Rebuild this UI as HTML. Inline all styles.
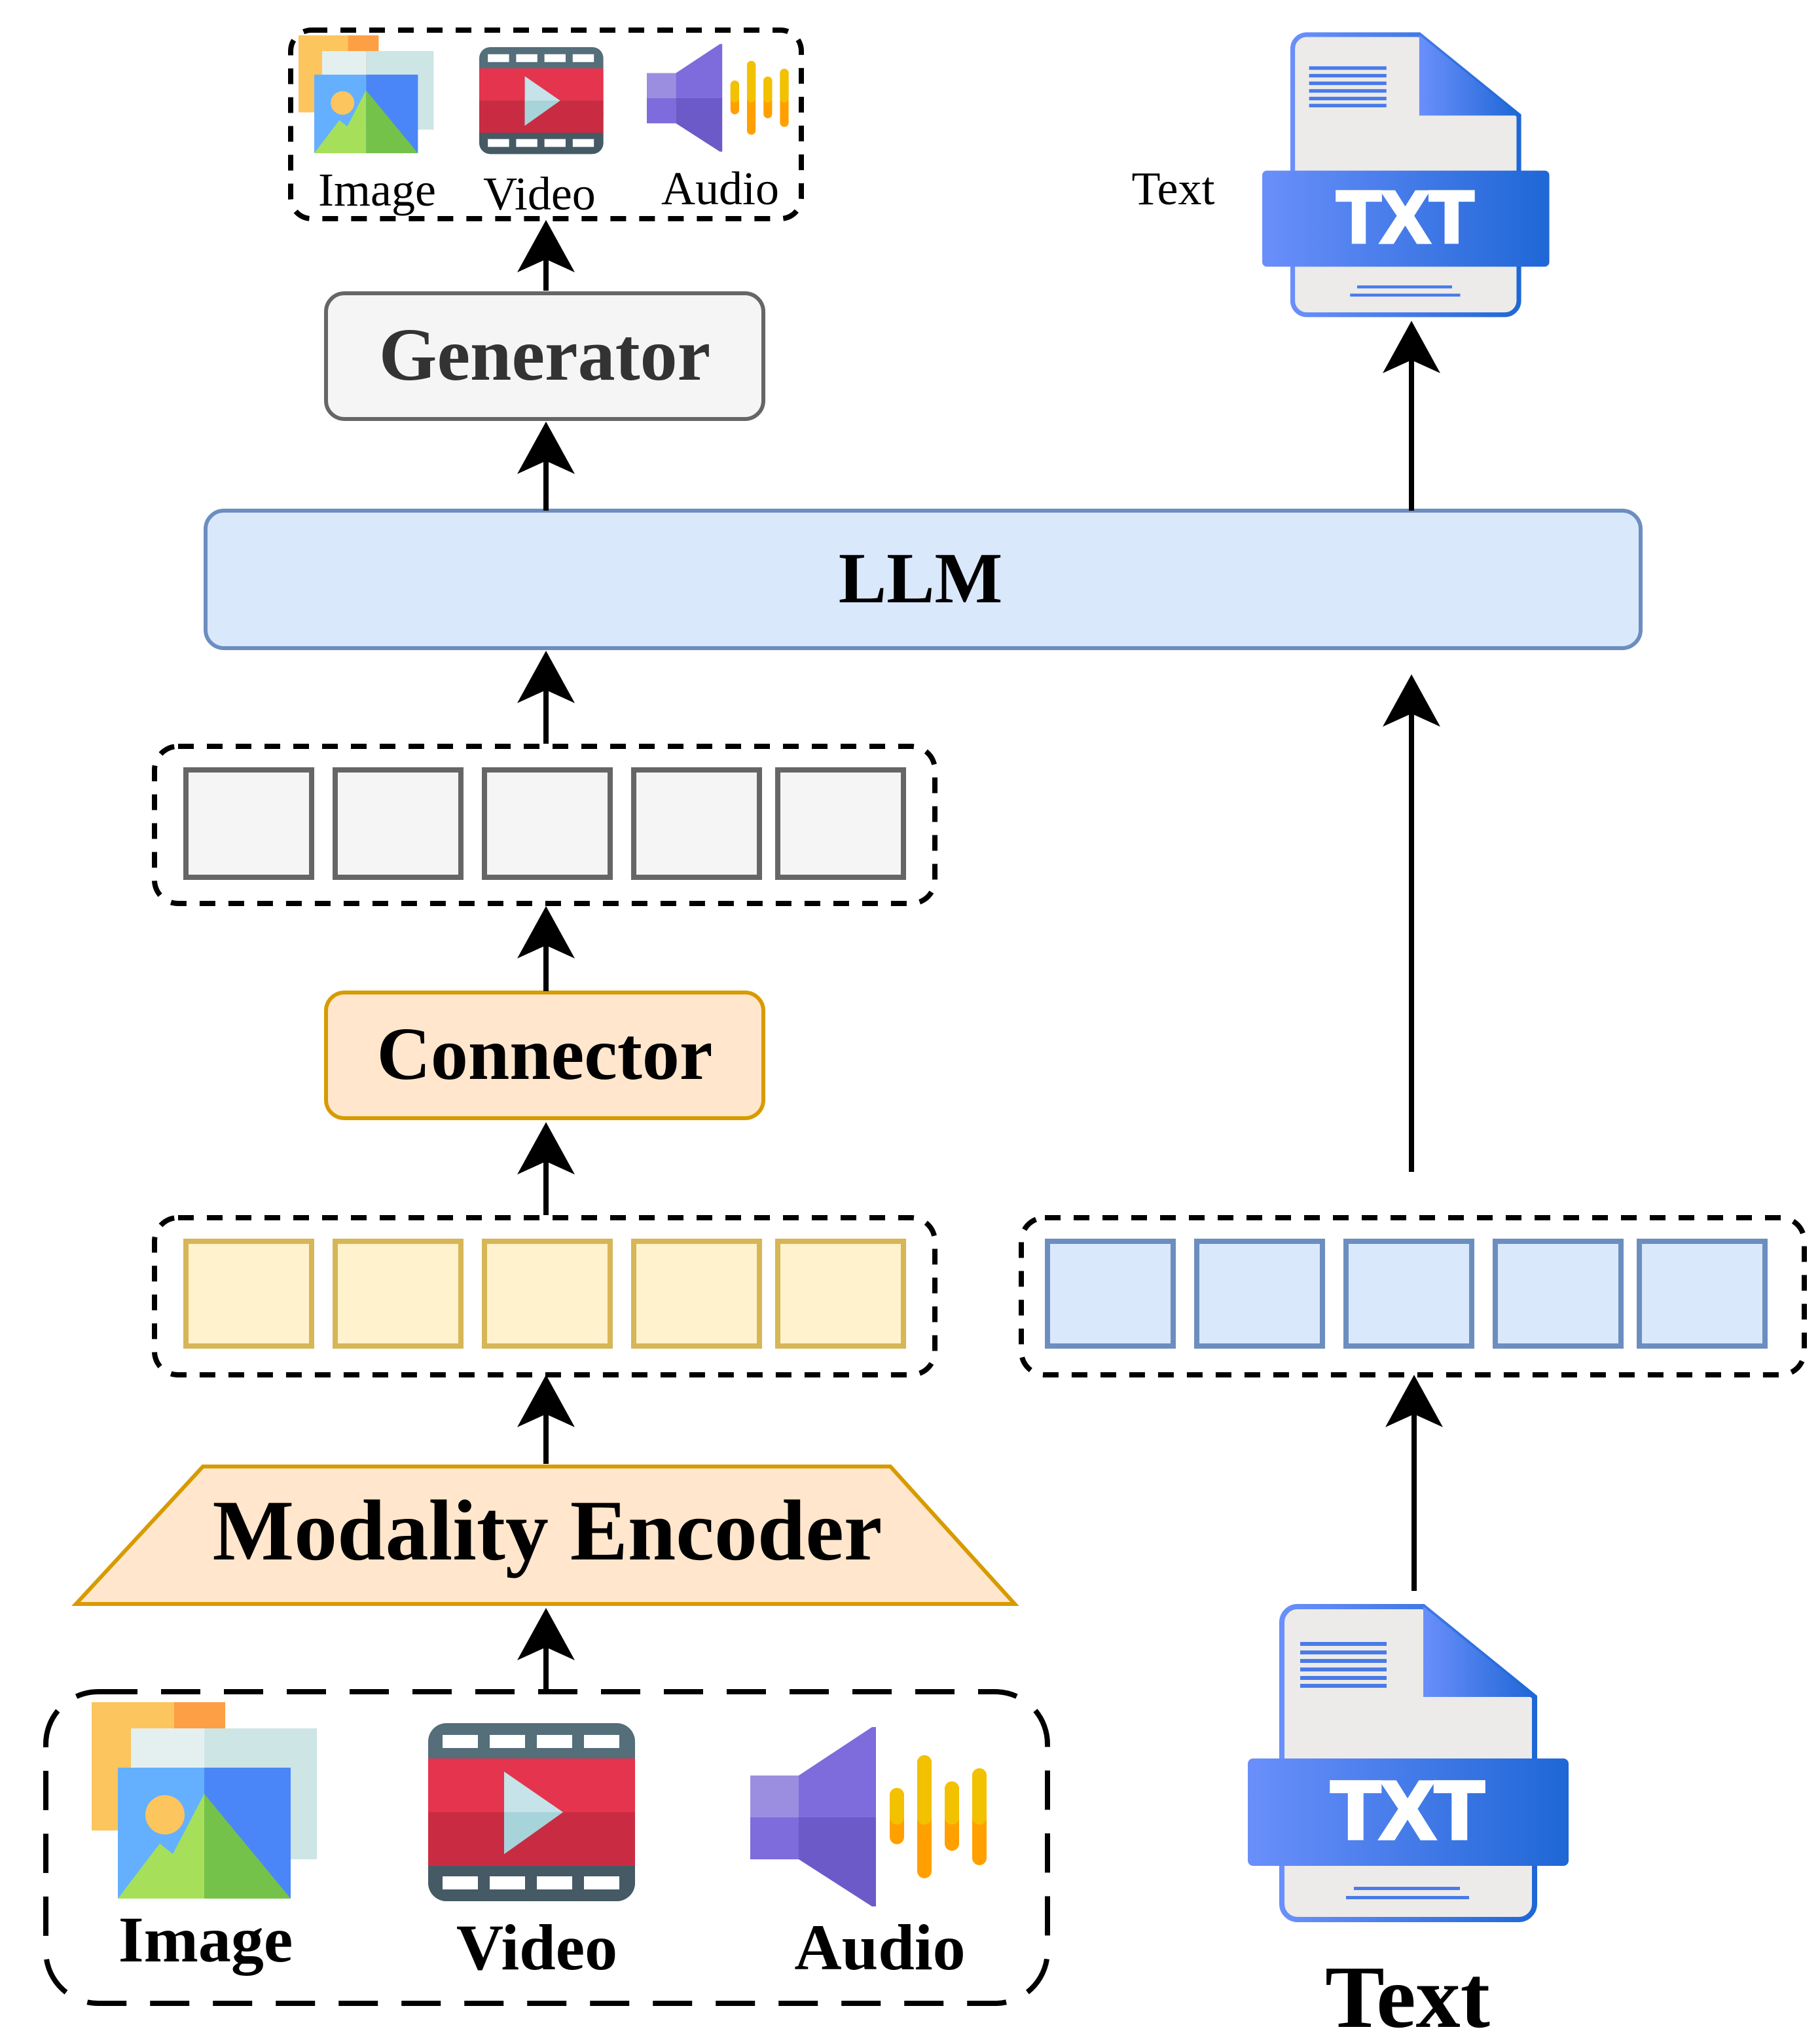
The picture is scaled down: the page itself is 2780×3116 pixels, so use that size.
<!DOCTYPE html>
<html><head><meta charset="utf-8"><style>
html,body{margin:0;padding:0;background:#fff}
svg{display:block}
text{font-family:"Liberation Serif",serif}
</style></head><body>
<svg width="2780" height="3116" viewBox="0 0 1390 1558" xmlns="http://www.w3.org/2000/svg">
<defs>
<linearGradient id="bg" x1="0" x2="1"><stop offset="0" stop-color="#6a8ffb"/><stop offset="1" stop-color="#1f67d6"/></linearGradient>
<g id="img">
<rect x="0" y="0" width="63" height="98" fill="#fdc55e"/><rect x="63" y="0" width="39" height="98" fill="#fd9f45"/>
<rect x="30" y="20" width="56" height="100" fill="#e4f0f0"/><rect x="86" y="20" width="86" height="100" fill="#cde5e5"/>
<rect x="20" y="50" width="66" height="100" fill="#64b0ff"/><rect x="86" y="50" width="66" height="100" fill="#4a86f7"/>
<circle cx="56" cy="86" r="15" fill="#fdc55e"/>
<polygon points="20,150 52,108 62,116 86,70 86,150" fill="#a6e05a"/>
<polygon points="86,70 152,150 86,150" fill="#74c24a"/>
</g>
<g id="vid">
<rect x="0" y="0" width="158" height="136" rx="14" fill="#546e7a"/>
<rect x="0" y="68" width="158" height="68" rx="14" fill="#455a64"/>
<rect x="0" y="68" width="158" height="20" fill="#455a64"/>
<rect x="0" y="27" width="158" height="41" fill="#e5344e"/><rect x="0" y="68" width="158" height="41" fill="#c92c42"/>
<g fill="#fff"><rect x="11" y="9" width="27" height="10"/><rect x="47" y="9" width="27" height="10"/><rect x="83" y="9" width="27" height="10"/><rect x="119" y="9" width="27" height="10"/>
<rect x="11" y="117" width="27" height="10"/><rect x="47" y="117" width="27" height="10"/><rect x="83" y="117" width="27" height="10"/><rect x="119" y="117" width="27" height="10"/></g>
<polygon points="58,37 103,68 58,100" fill="#c5e3e8"/><polygon points="58,68 103,68 58,100" fill="#a6d4da"/>
</g>
<g id="aud">
<rect x="0" y="38" width="37" height="32" fill="#9b8ee0"/><rect x="0" y="70" width="37" height="32" fill="#7e6bdc"/>
<polygon points="37,38 93,1 96,1 96,70 37,70" fill="#7e6bdc"/><polygon points="37,70 96,70 96,138 93,138 37,102" fill="#6d5ac9"/>
<g stroke-width="11" stroke-linecap="round"><line x1="112" y1="53" x2="112" y2="85" stroke="#ffa000"/><line x1="133" y1="28" x2="133" y2="111" stroke="#ffa000"/><line x1="154" y1="48" x2="154" y2="90" stroke="#ffa000"/><line x1="175" y1="38" x2="175" y2="101" stroke="#ffa000"/></g>
<g stroke-width="11" stroke-linecap="round" stroke="#f2c100"><line x1="112" y1="53" x2="112" y2="70"/><line x1="133" y1="28" x2="133" y2="70"/><line x1="154" y1="48" x2="154" y2="70"/><line x1="175" y1="38" x2="175" y2="70"/></g>
</g>
<g id="txt">
<path d="M38,5 H134 L219,74 V232 a12,12 0 0 1 -12,12 H38 a12,12 0 0 1 -12,-12 V17 a12,12 0 0 1 12,-12 Z" fill="#ecebe9" stroke="url(#bg)" stroke-width="4"/>
<polygon points="134,5 219,74 134,74" fill="url(#bg)"/>
<g fill="#4a7ae8"><rect x="40" y="32" width="66" height="3"/><rect x="40" y="38.5" width="66" height="3"/><rect x="40" y="45" width="66" height="3"/><rect x="40" y="51.5" width="66" height="3"/><rect x="40" y="58" width="66" height="3"/><rect x="40" y="64" width="66" height="3"/>
<rect x="81" y="219" width="81" height="2.5"/><rect x="75" y="226" width="94" height="2.5"/></g>
<rect x="0" y="121" width="245" height="82" rx="4" fill="url(#bg)"/>
<text x="122" y="182" text-anchor="middle" font-weight="bold" font-size="62" fill="#fff" stroke="#fff" stroke-width="3" style="font-family:'Liberation Sans',sans-serif">TXT</text>
</g>
</defs>

<rect x="222" y="23" width="390" height="144" rx="16" fill="none" stroke="#000" stroke-width="4" stroke-dasharray="12,10"/>
<use href="#img" transform="translate(228,27) scale(0.6)"/>
<use href="#vid" transform="translate(366,36) scale(0.6)"/>
<use href="#aud" transform="translate(494,33) scale(0.6)"/>
<text x="288" y="157" text-anchor="middle" font-size="36">Image</text>
<text x="412" y="160" text-anchor="middle" font-size="36">Video</text>
<text x="550" y="156" text-anchor="middle" font-size="36">Audio</text>
<text x="896" y="156" text-anchor="middle" font-size="36">Text</text>
<use href="#txt" transform="translate(964,22) scale(0.895)"/>

<rect x="249" y="224" width="334" height="96" rx="14" fill="#f5f5f5" stroke="#666" stroke-width="3"/>
<text x="416" y="290" text-anchor="middle" font-size="57" font-weight="bold" fill="#333">Generator</text>

<rect x="157" y="390" width="1096" height="105" rx="14" fill="#dae8fc" stroke="#6c8ebf" stroke-width="3"/>
<text x="703" y="460" text-anchor="middle" font-size="55" font-weight="bold">LLM</text>

<rect x="118" y="570" width="596" height="120" rx="18" fill="none" stroke="#000" stroke-width="4" stroke-dasharray="12,10"/>
<g fill="#f5f5f5" stroke="#666" stroke-width="4">
<rect x="142" y="588" width="96" height="82"/><rect x="256" y="588" width="96" height="82"/><rect x="370" y="588" width="96" height="82"/><rect x="484" y="588" width="96" height="82"/><rect x="594" y="588" width="96" height="82"/></g>

<rect x="249" y="758" width="334" height="96" rx="14" fill="#ffe6cc" stroke="#d79b00" stroke-width="3"/>
<text x="416" y="824" text-anchor="middle" font-size="57" font-weight="bold">Connector</text>

<rect x="118" y="930" width="596" height="120" rx="18" fill="none" stroke="#000" stroke-width="4" stroke-dasharray="12,10"/>
<g fill="#fff2cc" stroke="#d6b656" stroke-width="4">
<rect x="142" y="948" width="96" height="80"/><rect x="256" y="948" width="96" height="80"/><rect x="370" y="948" width="96" height="80"/><rect x="484" y="948" width="96" height="80"/><rect x="594" y="948" width="96" height="80"/></g>

<rect x="780" y="930" width="598" height="120" rx="18" fill="none" stroke="#000" stroke-width="4" stroke-dasharray="12,10"/>
<g fill="#dae8fc" stroke="#6c8ebf" stroke-width="4">
<rect x="800" y="948" width="96" height="80"/><rect x="914" y="948" width="96" height="80"/><rect x="1028" y="948" width="96" height="80"/><rect x="1142" y="948" width="96" height="80"/><rect x="1252" y="948" width="96" height="80"/></g>

<polygon points="58,1225 775,1225 680,1120 155,1120" fill="#ffe6cc" stroke="#d79b00" stroke-width="3"/>
<text x="418" y="1191" text-anchor="middle" font-size="66" font-weight="bold">Modality Encoder</text>

<rect x="35" y="1292" width="765" height="238" rx="40" fill="none" stroke="#000" stroke-width="4" stroke-dasharray="30,18"/>
<use href="#img" transform="translate(70,1300)"/>
<use href="#vid" transform="translate(327,1316)"/>
<use href="#aud" transform="translate(573,1318)"/>
<text x="157" y="1498" text-anchor="middle" font-size="50" font-weight="bold">Image</text>
<text x="410" y="1504" text-anchor="middle" font-size="50" font-weight="bold">Video</text>
<text x="672" y="1504" text-anchor="middle" font-size="50" font-weight="bold">Audio</text>
<use href="#txt" transform="translate(953,1222)"/>
<text x="1075" y="1548" text-anchor="middle" font-size="68" font-weight="bold">Text</text>

<g stroke="#000" stroke-width="4" fill="none">
<line x1="417" y1="1290" x2="417" y2="1240"/>
<line x1="417" y1="1118" x2="417" y2="1062"/>
<line x1="417" y1="928" x2="417" y2="870"/>
<line x1="417" y1="757" x2="417" y2="705"/>
<line x1="417" y1="568" x2="417" y2="510"/>
<line x1="417" y1="390" x2="417" y2="335"/>
<line x1="417" y1="222" x2="417" y2="180"/>
<line x1="1078" y1="895" x2="1078" y2="530"/>
<line x1="1080" y1="1215" x2="1080" y2="1062"/>
<line x1="1078" y1="390" x2="1078" y2="258"/>
</g>
<g fill="#000">
<path d="M417,1228 L439,1268 L417,1258 L395,1268 Z"/>
<path d="M417,1050 L439,1090 L417,1080 L395,1090 Z"/>
<path d="M417,857 L439,897 L417,887 L395,897 Z"/>
<path d="M417,692 L439,732 L417,722 L395,732 Z"/>
<path d="M417,497 L439,537 L417,527 L395,537 Z"/>
<path d="M417,322 L439,362 L417,352 L395,362 Z"/>
<path d="M417,168 L439,208 L417,198 L395,208 Z"/>
<path d="M1078,515 L1100,555 L1078,545 L1056,555 Z"/>
<path d="M1080,1050 L1102,1090 L1080,1080 L1058,1090 Z"/>
<path d="M1078,245 L1100,285 L1078,275 L1056,285 Z"/>
</g>
</svg>
</body></html>
